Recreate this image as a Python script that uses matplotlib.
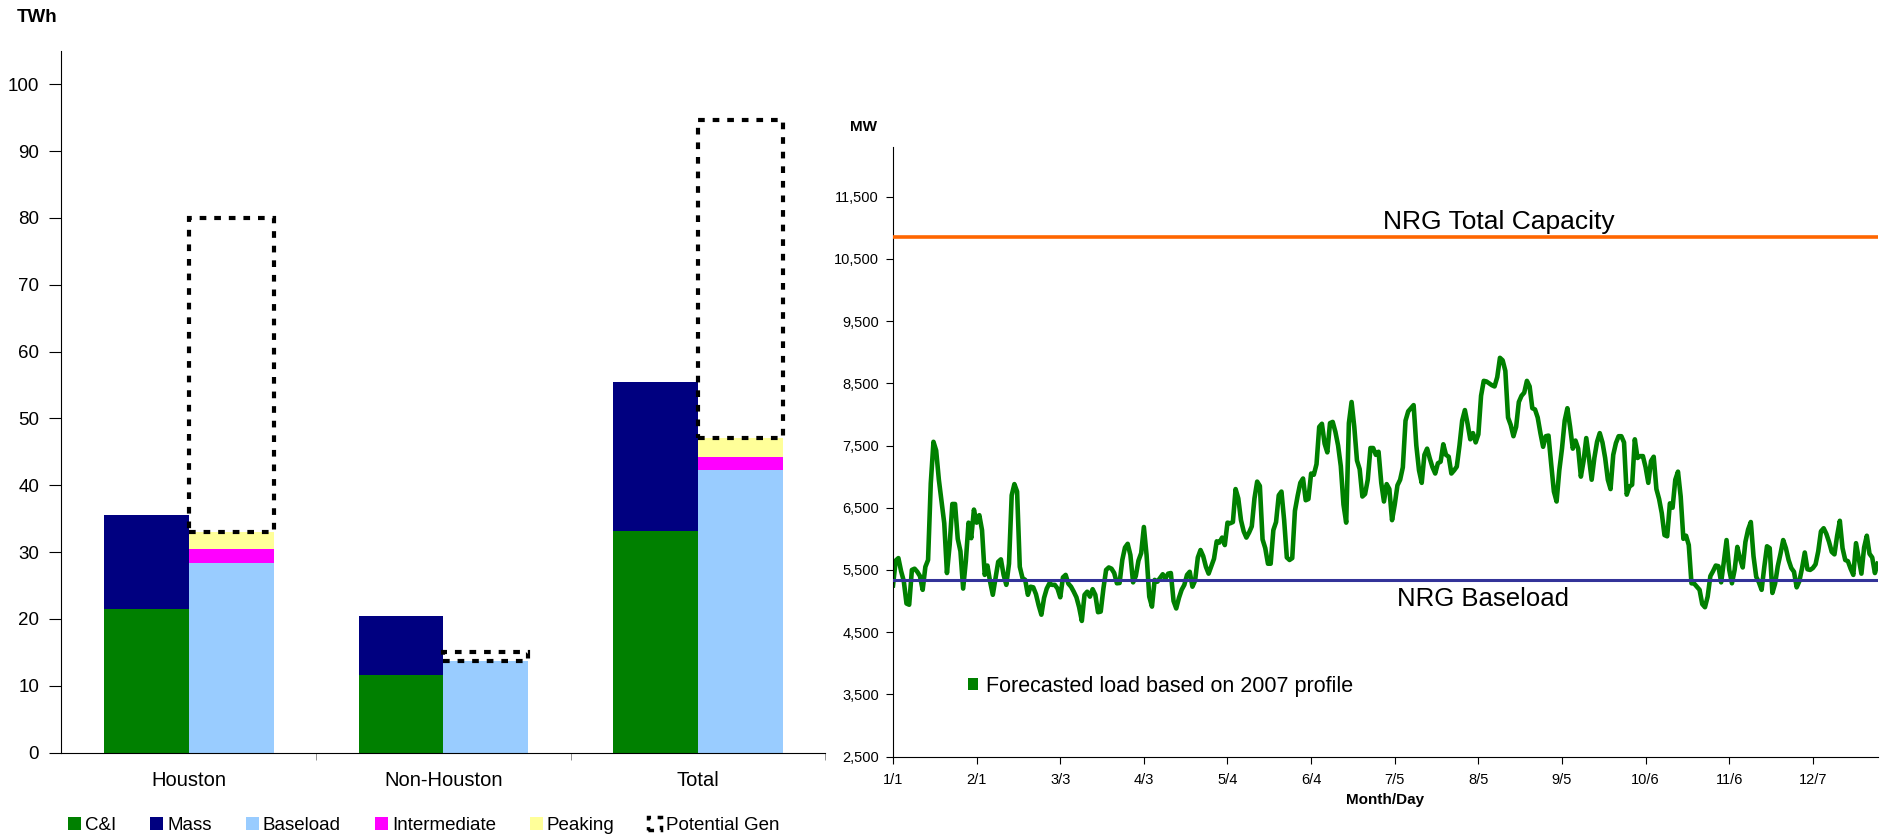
import numpy as np
import matplotlib
matplotlib.use('Agg')
from matplotlib import pyplot as plt
from matplotlib.patches import Patch
from matplotlib.ticker import FuncFormatter

plt.rcParams['font.family'] = ['Liberation Sans', 'DejaVu Sans']

# ---- left chart: annual energy (TWh) ----
categories = ['Houston', 'Non-Houston', 'Total']
ci = [21.5, 11.6, 33.1]
mass = [14.0, 8.8, 22.4]
baseload = [28.4, 13.7, 42.3]
intermediate = [2.1, 0.0, 1.9]
peaking = [2.5, 0.0, 2.8]
potential_gen = [47.0, 1.3, 47.7]

# ---- right chart: daily load forecast (MW) ----
load_jan_feb = [5250, 5650, 5690, 5480, 5320, 4960, 4940, 5500, 5520, 5470,
                5400, 5180, 5550, 5660, 6890, 7560, 7420, 6950, 6600, 6250,
                5450, 5900, 6560, 6560, 6000, 5800, 5200, 5640, 6260, 6010,
                6470, 6260, 6380, 6140, 5420, 5570, 5310, 5100, 5370, 5630,
                5670, 5420, 5260, 5600, 6700, 6880, 6760, 5550, 5370, 5340,
                5100, 5230, 5220, 5110, 4930, 4780, 5050, 5200, 5285, 5260]
load_mar_apr = [5260, 5200, 5060, 5380, 5420, 5280, 5230, 5150, 5060, 4900,
                4680, 5100, 5150, 5070, 5190, 5100, 4820, 4830, 5200, 5500,
                5540, 5520, 5450, 5285, 5290, 5660, 5860, 5920, 5740, 5300,
                5400, 5650, 5770, 6190, 5740, 5070, 4910, 5340, 5310, 5370,
                5430, 5360, 5440, 5450, 5000, 4880, 5050, 5180, 5260, 5420,
                5470, 5230, 5330, 5700, 5820, 5720, 5550, 5440, 5560, 5680,
                5960]
load_may_jun = [5940, 6020, 5900, 6260, 6250, 6270, 6800, 6650, 6300,
                6120, 6020, 6100, 6200, 6650, 6920, 6850, 5990, 5850, 5600,
                5600, 6140, 6270, 6700, 6760, 6300, 5700, 5660, 5690, 6450,
                6690, 6900, 6970, 6620, 6640, 7050, 7030, 7200, 7800, 7850,
                7530, 7390, 7860, 7880, 7720, 7500, 7170, 6550, 6260, 7860,
                8200, 7800, 7260, 7120, 6680, 6720, 6950, 7460, 7460, 7350,
                7400, 6900]
load_jul_aug = [6600, 6880, 6800, 6300, 6550, 6860, 6950, 7150,
                7900, 8050, 8100, 8150, 7500, 7100, 6900, 7350, 7450, 7290,
                7150, 7050, 7215, 7240, 7520, 7350, 7320, 7050, 7100, 7160,
                7500, 7900, 8070, 7850, 7600, 7700, 7550, 7680, 8300, 8540,
                8530, 8500, 8470, 8450, 8600, 8910, 8870, 8700, 7950, 7830,
                7650, 7800, 8200, 8300, 8350, 8540, 8450, 8100, 8080, 7950,
                7700, 7480, 7650]
load_sep_oct = [7660, 7200, 6760, 6600, 7100, 7450, 7900,
                8100, 7800, 7450, 7580, 7450, 7000, 7250, 7620, 7300, 6950,
                7300, 7560, 7700, 7550, 7300, 6950, 6800, 7350, 7540, 7650,
                7650, 7550, 6710, 6840, 6870, 7600, 7300, 7330, 7330, 7150,
                6900, 7250, 7320, 6800, 6640, 6410, 6060, 6040, 6570, 6500,
                6950, 7080, 6680, 6000, 6050, 5900, 5285, 5280, 5230, 5180,
                4950, 4900, 5070, 5400]
load_nov_dec = [5480, 5570, 5560, 5300, 5630, 5980,
                5500, 5285, 5500, 5870, 5680, 5540, 5950, 6150, 6270, 5720,
                5390, 5300, 5180, 5550, 5880, 5850, 5130, 5280, 5560, 5760,
                5980, 5850, 5660, 5530, 5470, 5220, 5320, 5530, 5780, 5510,
                5500, 5530, 5590, 5800, 6120, 6170, 6080, 5950, 5790, 5750,
                6050, 6290, 5850, 5660, 5640, 5520, 5420, 5930, 5680, 5440,
                5860, 6050, 5760, 5700, 5450, 5600]
load = load_jan_feb + load_mar_apr + load_may_jun + load_jul_aug + load_sep_oct + load_nov_dec

total_capacity = 10860
baseload_mw = 5340
day_ticks = [0, 31, 62, 93, 124, 155, 186, 217, 248, 279, 310, 341]
day_labels = ['1/1', '2/1', '3/3', '4/3', '5/4', '6/4', '7/5', '8/5', '9/5', '10/6', '11/6', '12/7']

W, H = 1883, 838
fig = plt.figure(figsize=(W / 100, H / 100), dpi=100)

# ---------------- left chart ----------------
ax1 = fig.add_axes([61.4 / W, 1 - 752.5 / H, 764.1 / W, 701.7 / H])
xc = np.arange(len(categories))
w = 1 / 3
ci_a = np.array(ci)
bl_a = np.array(baseload)
int_a = np.array(intermediate)
pk_a = np.array(peaking)
dash = (0, (1.6, 1.9))

ax1.bar(xc - w / 2, ci, w, color='#008000', linewidth=0)
ax1.bar(xc - w / 2, mass, w, bottom=ci_a, color='#000080', linewidth=0)
ax1.bar(xc + w / 2, baseload, w, color='#99CCFF', linewidth=0)
ax1.bar(xc + w / 2, intermediate, w, bottom=bl_a, color='#FF00FF', linewidth=0)
ax1.bar(xc + w / 2, peaking, w, bottom=bl_a + int_a, color='#FFFF99', linewidth=0)
ax1.bar(xc + w / 2, potential_gen, w, bottom=bl_a + int_a + pk_a, facecolor='none',
        edgecolor='black', linewidth=3, linestyle=dash)

ax1.set_xlim(-0.5, 2.5)
ax1.set_ylim(0, 105)
ax1.set_yticks(np.arange(0, 101, 10))
ax1.set_xticks(xc)
ax1.set_xticklabels(categories)
ax1.set_xticks([0.5, 1.5, 2.5], minor=True)
ax1.tick_params(axis='x', which='major', length=0, pad=13, labelsize=14.5)
ax1.tick_params(axis='x', which='minor', length=5, direction='out', color='#808080')
ax1.tick_params(axis='y', length=9, direction='out', pad=7, labelsize=13.5)
for s in ['top', 'right']:
    ax1.spines[s].set_visible(False)

handles = [Patch(facecolor='#008000'), Patch(facecolor='#000080'), Patch(facecolor='#99CCFF'),
           Patch(facecolor='#FF00FF'), Patch(facecolor='#FFFF99'),
           Patch(facecolor='white', edgecolor='black', linewidth=2.5, linestyle=dash)]
names = ['C&I', 'Mass', 'Baseload', 'Intermediate', 'Peaking', 'Potential Gen']
ax1.legend(handles, names, ncol=6, loc='center left',
           bbox_to_anchor=(67.8 / W, 1 - 825.5 / H), bbox_transform=fig.transFigure,
           frameon=False, fontsize=13.5, handlelength=0.7, handleheight=0.7,
           handletextpad=0.22, columnspacing=1.8, borderpad=0, borderaxespad=0)

fig.text(17 / W, 1 - 17.6 / H, 'TWh', fontsize=13.5, fontweight='bold', va='center')

# ---------------- right chart ----------------
ax2 = fig.add_axes([893 / W, 1 - 756.5 / H, 984.6 / W, 609.5 / H])
ax2.plot(np.arange(len(load)), load, color='#008000', linewidth=3.3, zorder=2)
ax2.axhline(total_capacity, color='#FF6600', linewidth=2.6, zorder=3)
ax2.axhline(baseload_mw, color='#333399', linewidth=2.2, zorder=3)

ax2.set_xlim(0, 365)
ax2.set_ylim(2500, 12300)
ax2.set_yticks(np.arange(2500, 12000, 1000))
ax2.yaxis.set_major_formatter(FuncFormatter(lambda v, p: f'{int(v):,}'))
ax2.set_xticks(day_ticks)
ax2.set_xticklabels(day_labels)
ax2.tick_params(axis='y', length=5, direction='out', pad=5, labelsize=10.5)
ax2.tick_params(axis='x', length=5, direction='out', pad=7, labelsize=10.5)
for s in ['top', 'right']:
    ax2.spines[s].set_visible(False)

ax2.text(224.5, 10900, 'NRG Total Capacity', fontsize=19, ha='center', va='bottom')
ax2.text(218.6, 5230, 'NRG Baseload', fontsize=18.5, ha='center', va='top')

ax2.legend([Patch(facecolor='#008000')], ['Forecasted load based on 2007 profile'],
           loc='center left', bbox_to_anchor=(968.5 / W, 1 - 686 / H),
           bbox_transform=fig.transFigure, frameon=False, fontsize=15.5,
           handlelength=0.45, handleheight=0.45, handletextpad=0.35,
           borderpad=0, borderaxespad=0)

fig.text(850.5 / W, 1 - 127 / H, 'MW', fontsize=11, fontweight='bold', va='center')
fig.text(1385 / W, 1 - 800 / H, 'Month/Day', fontsize=11, fontweight='bold',
         ha='center', va='center')

fig.savefig('out.png', dpi=100)
